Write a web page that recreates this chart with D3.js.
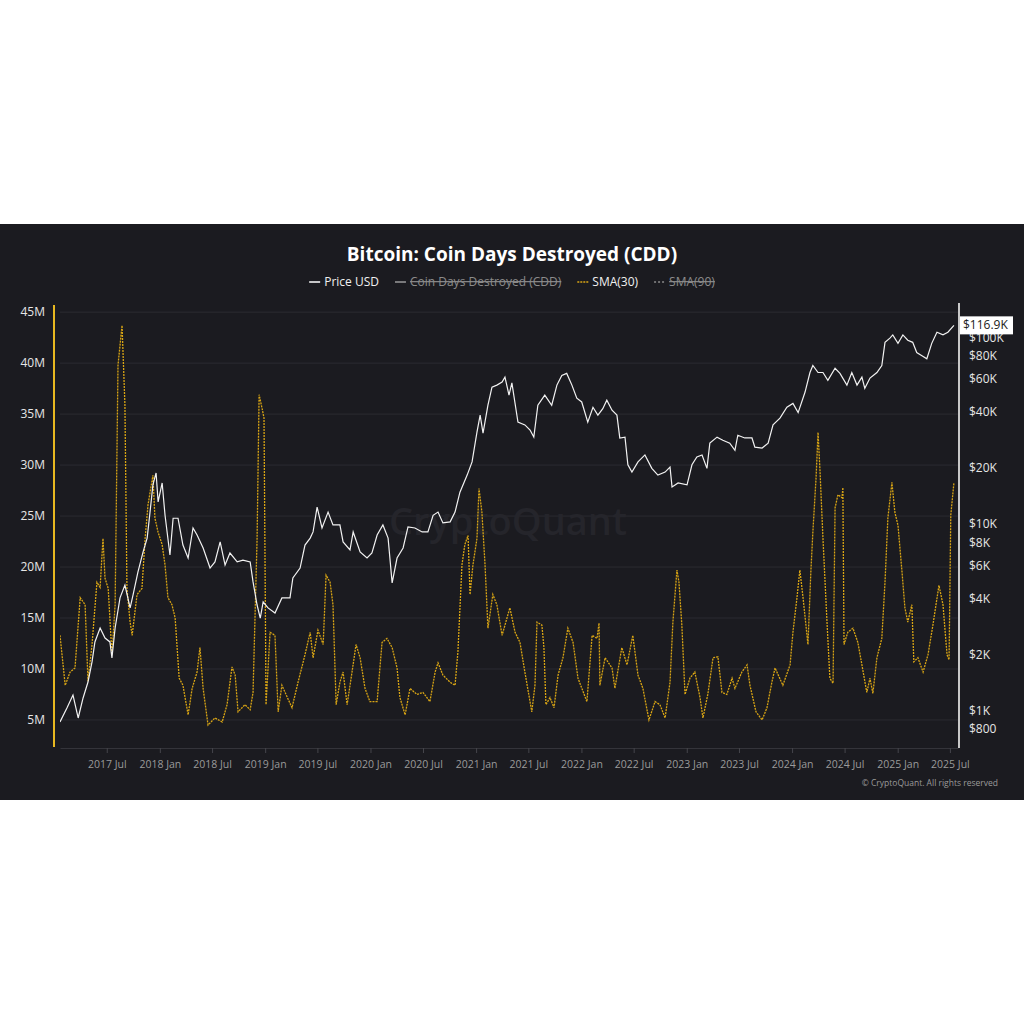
<!DOCTYPE html>
<html>
<head>
<meta charset="utf-8">
<script src="https://cdn.jsdelivr.net/npm/d3@7"></script>
<style>
  body { margin: 0; background: #ffffff; }
  #chart { width: 1024px; height: 1024px; }
  text { font-family: "Open Sans", "Noto Sans", sans-serif; }
</style>
</head>
<body>
<div id="chart"></div>
<script>
// ---- data ----
const priceDates = ["2017-01-20","2017-02-13","2017-03-06","2017-03-24","2017-04-10","2017-04-27","2017-05-11","2017-05-21","2017-06-08","2017-06-25",
  "2017-07-12","2017-07-19","2017-07-30","2017-08-16","2017-09-02","2017-09-20","2017-09-30","2017-10-17","2017-11-04","2017-11-18",
  "2017-11-28","2017-12-08","2017-12-19","2017-12-26","2018-01-09","2018-01-19","2018-02-05","2018-02-16","2018-03-05","2018-03-22",
  "2018-04-09","2018-04-26","2018-05-10","2018-05-31","2018-06-24","2018-07-11","2018-07-29","2018-08-15","2018-09-01","2018-09-26",
  "2018-10-16","2018-11-10","2018-11-20","2018-12-04","2018-12-15","2018-12-25","2019-01-11","2019-02-04","2019-02-28","2019-03-28",
  "2019-04-07","2019-05-02","2019-05-19","2019-06-06","2019-06-16","2019-06-30","2019-07-17","2019-08-07","2019-08-24","2019-09-17",
  "2019-09-28","2019-10-22","2019-11-02","2019-11-26","2019-12-20","2020-01-06","2020-01-24","2020-02-13","2020-03-02","2020-03-16",
  "2020-04-02","2020-04-23","2020-05-10","2020-06-03","2020-06-28","2020-07-18","2020-08-05","2020-08-22","2020-09-08","2020-10-03",
  "2020-10-20","2020-11-06","2020-12-01","2020-12-18","2021-01-04","2021-01-15","2021-01-25","2021-02-11","2021-02-25","2021-03-14",
  "2021-04-01","2021-04-11","2021-04-25","2021-05-05","2021-05-26","2021-06-19","2021-07-07","2021-07-20","2021-08-03","2021-08-27",
  "2021-09-20","2021-10-08","2021-10-25","2021-11-11","2021-11-29","2021-12-16","2022-01-02","2022-01-23","2022-02-10","2022-02-27",
  "2022-03-16","2022-03-30","2022-04-17","2022-05-04","2022-05-14","2022-06-01","2022-06-11","2022-06-25","2022-07-16","2022-08-09",
  "2022-09-02","2022-09-23","2022-10-18","2022-11-04","2022-11-11","2022-12-02","2023-01-02","2023-01-19","2023-02-05","2023-02-23",
  "2023-03-12","2023-03-22","2023-04-16","2023-05-06","2023-05-30","2023-06-17","2023-06-27","2023-07-21","2023-08-15","2023-08-25",
  "2023-09-19","2023-10-10","2023-10-27","2023-11-20","2023-12-14","2024-01-04","2024-01-22","2024-02-15","2024-03-03","2024-03-13",
  "2024-03-31","2024-04-17","2024-05-04","2024-05-29","2024-06-15","2024-07-09","2024-07-26","2024-08-13","2024-08-30","2024-09-09",
  "2024-09-27","2024-10-21","2024-11-07","2024-11-18","2024-12-05","2024-12-15","2025-01-02","2025-01-19","2025-02-05","2025-02-22",
  "2025-03-08","2025-03-26","2025-04-12","2025-04-29","2025-05-17","2025-06-07","2025-06-24","2025-07-15"];
const priceValues = [873,1037,1218,917,1174,1430,1832,2345,2785,2460,
  2345,1925,2785,4040,4730,3570,4180,5560,7130,8450,
  11650,16300,18900,13200,16700,11200,6860,10800,10800,7760,
  6610,9580,8780,7480,5840,6300,8060,6060,7030,6300,
  6440,6300,4920,3700,3150,3840,3570,3350,4040,4040,
  5170,5840,7760,8450,9120,12400,9580,11650,9940,9940,
  8060,7300,9120,7130,6610,7030,8780,9940,8450,4860,
  6610,7480,9700,9580,9120,9120,11200,11650,10200,10330,
  11650,14900,18400,21650,31300,38600,30900,43600,54500,55900,
  58000,61700,49400,57400,35400,34200,32100,29400,43600,49400,
  43600,55900,63000,64600,55900,47600,45400,35400,42500,38600,
  41800,46400,41000,38600,29100,29400,20900,19100,21650,23600,
  20000,18400,19100,20300,15900,16700,16300,20900,23000,23600,
  20000,27300,29400,28300,27300,25000,30100,29100,29100,26000,
  25700,27300,34200,37200,42500,44600,39800,51300,65300,71200,
  65300,65300,59300,68800,64600,55900,65300,55900,61700,53700,
  61000,65300,71200,94800,99900,103900,93600,103900,97300,94800,
  83600,80400,77400,93600,107400,103900,107400,116900];

const smaDates = ["2017-01-20","2017-02-07","2017-02-24","2017-03-13","2017-03-31","2017-04-17","2017-04-27","2017-05-11","2017-05-28","2017-06-08",
  "2017-06-18","2017-06-25","2017-07-06","2017-07-19","2017-07-30","2017-08-09","2017-08-23","2017-09-02","2017-09-09","2017-09-20",
  "2017-09-27","2017-10-14","2017-10-31","2017-11-11","2017-11-21","2017-12-08","2017-12-15","2017-12-26","2018-01-09","2018-01-19",
  "2018-01-29","2018-02-12","2018-02-23","2018-03-09","2018-03-22","2018-04-09","2018-04-23","2018-05-10","2018-05-20","2018-05-31",
  "2018-06-17","2018-07-11","2018-08-05","2018-08-22","2018-09-08","2018-09-19","2018-09-29","2018-10-23","2018-11-10","2018-11-20",
  "2018-12-04","2018-12-11","2018-12-21","2018-12-28","2019-01-04","2019-01-18","2019-02-04","2019-02-15","2019-02-28","2019-04-04",
  "2019-04-25","2019-05-19","2019-06-06","2019-06-16","2019-07-03","2019-07-21","2019-07-31","2019-08-14","2019-08-24","2019-09-04",
  "2019-09-17","2019-09-28","2019-10-12","2019-10-29","2019-11-12","2019-11-26","2019-12-13","2019-12-30","2020-01-24","2020-02-10",
  "2020-02-27","2020-03-16","2020-04-02","2020-04-12","2020-04-30","2020-05-17","2020-06-10","2020-07-01","2020-07-25","2020-08-12",
  "2020-08-22","2020-09-08","2020-10-03","2020-10-20","2020-10-30","2020-11-13","2020-11-23","2020-12-04","2020-12-11","2020-12-21",
  "2021-01-04","2021-01-11","2021-01-21","2021-02-01","2021-02-11","2021-02-28","2021-03-14","2021-04-01","2021-04-18","2021-04-28",
  "2021-05-16","2021-06-02","2021-06-19","2021-07-13","2021-07-24","2021-07-31","2021-08-17","2021-08-24","2021-08-31","2021-09-14",
  "2021-09-28","2021-10-12","2021-10-29","2021-11-15","2021-12-03","2021-12-20","2022-01-20","2022-02-07","2022-02-24","2022-03-03",
  "2022-03-06","2022-03-24","2022-04-17","2022-04-27","2022-05-21","2022-06-08","2022-06-28","2022-07-16","2022-08-02","2022-08-23",
  "2022-09-13","2022-09-30","2022-10-18","2022-11-04","2022-11-14","2022-11-28","2022-12-05","2022-12-15","2022-12-26","2023-01-12",
  "2023-01-29","2023-02-16","2023-02-26","2023-03-15","2023-04-02","2023-04-19","2023-05-03","2023-05-20","2023-06-07","2023-06-17",
  "2023-07-11","2023-07-29","2023-08-08","2023-08-29","2023-09-19","2023-10-06","2023-10-23","2023-11-03","2023-11-30","2023-12-25",
  "2024-01-04","2024-01-18","2024-01-28","2024-02-08","2024-02-18","2024-02-25","2024-03-06","2024-03-13","2024-03-24","2024-03-31",
  "2024-04-07","2024-04-17","2024-05-01","2024-05-11","2024-05-22","2024-05-29","2024-06-08","2024-06-22","2024-06-25","2024-06-29",
  "2024-07-12","2024-07-30","2024-08-16","2024-08-30","2024-09-16","2024-09-27","2024-10-07","2024-10-21","2024-11-07","2024-11-18",
  "2024-11-28","2024-12-12","2024-12-22","2025-01-02","2025-01-16","2025-01-26","2025-02-05","2025-02-19","2025-02-26","2025-03-12",
  "2025-03-30","2025-04-16","2025-05-03","2025-05-24","2025-06-07","2025-06-21","2025-06-28","2025-07-04","2025-07-15"];
// SMA(30) of CDD, millions
const smaValues = [13.3,8.4,9.7,10.1,17.0,16.3,8.8,12.4,18.5,18.0,
  22.8,18.9,17.9,11.4,16.3,39.8,43.7,35.9,17.9,14.6,
  13.3,17.3,17.9,22.8,26.1,29.0,24.8,23.4,22.2,20.2,
  17.0,16.3,15.0,9.1,8.4,5.5,8.1,9.7,12.1,8.1,
  4.5,5.2,4.8,6.5,10.2,9.4,5.8,6.5,6.0,7.7,
  22.8,36.9,35.6,34.6,6.5,13.6,13.3,5.8,8.4,6.2,
  8.7,11.4,13.6,11.1,13.8,12.4,19.2,18.5,16.3,6.5,
  8.7,9.7,6.5,9.7,12.4,11.1,8.1,6.8,6.8,12.6,
  13.0,12.1,10.1,7.2,5.5,8.1,7.5,7.7,6.8,9.7,
  10.6,9.4,8.7,8.4,11.7,20.2,22.2,23.1,17.3,20.2,
  22.8,27.7,25.4,20.2,14.0,17.3,16.3,13.3,15.0,16.0,
  13.6,12.6,9.7,5.8,8.4,14.6,14.3,12.1,6.5,7.2,
  6.2,9.4,11.1,14.0,12.6,9.1,6.8,13.3,13.0,14.5,
  8.4,11.1,10.1,8.1,12.1,10.4,13.3,9.4,8.1,5.0,
  6.8,6.5,5.2,8.7,14.6,19.7,18.5,14.3,7.5,9.1,
  9.7,7.2,5.2,7.5,11.1,11.2,7.7,7.5,9.1,8.1,
  9.7,10.4,8.4,5.8,5.0,6.2,8.7,10.1,8.4,10.4,
  13.6,17.0,19.7,17.0,14.3,12.4,19.5,23.4,28.7,33.2,
  29.3,22.8,14.6,9.1,8.6,25.8,27.1,26.8,27.8,12.4,
  13.6,14.0,12.6,10.4,7.7,9.1,7.6,11.1,13.0,18.5,
  24.8,28.3,25.4,24.1,19.5,16.0,14.6,16.3,10.7,11.1,
  9.7,11.4,14.3,18.2,16.3,11.4,10.9,25.1,28.3];

const cddTicks = [5e6, 10e6, 15e6, 20e6, 25e6, 30e6, 35e6, 40e6, 45e6];
const priceTicks = [800, 1000, 2000, 4000, 6000, 8000, 10000, 20000, 40000, 60000, 80000, 100000];
const priceTickLabels = ["$800", "$1K", "$2K", "$4K", "$6K", "$8K", "$10K", "$20K", "$40K", "$60K", "$80K", "$100K"];
const lastPriceLabel = "$116.9K";

const legendItems = [
  { name: "Price USD", color: "#ffffff", dash: null, off: false },
  { name: "Coin Days Destroyed (CDD)", color: "#9a9a9a", dash: null, off: true },
  { name: "SMA(30)", color: "#d9a514", dash: "2,1", off: false },
  { name: "SMA(90)", color: "#8a8a8a", dash: "2,2", off: true }
];

class CddChart {
  constructor(parentElement) {
    this.parentElement = parentElement;
    this.parseDate = d3.timeParse("%Y-%m-%d");
    this.initVis();
  }

  initVis() {
    let vis = this;

    vis.W = 1024;
    vis.H = 1024;
    vis.plot = { left: 60, right: 958, top: 305, bottom: 748 };

    vis.svg = d3.select("#" + vis.parentElement)
      .append("svg")
      .attr("width", vis.W)
      .attr("height", vis.H);

    // dark panel
    vis.svg.append("rect")
      .attr("x", 0).attr("y", 224)
      .attr("width", vis.W).attr("height", 576)
      .attr("fill", "#1b1b20");

    // scales
    vis.x = d3.scaleTime()
      .domain([vis.parseDate("2017-01-20"), vis.parseDate("2025-07-29")])
      .range([vis.plot.left, vis.plot.right]);

    vis.yCdd = d3.scaleLinear()
      .domain([2.25e6, 45.7e6])
      .range([vis.plot.bottom, vis.plot.top]);

    vis.yPrice = d3.scaleLog()
      .domain([633, 150300])
      .range([vis.plot.bottom, vis.plot.top]);

    // gridlines
    vis.svg.append("g")
      .selectAll("line")
      .data(cddTicks)
      .enter()
      .append("line")
      .attr("x1", vis.plot.left)
      .attr("x2", vis.plot.right)
      .attr("y1", d => vis.yCdd(d))
      .attr("y2", d => vis.yCdd(d))
      .attr("stroke", "#2b2b31")
      .attr("stroke-width", 1);

    // watermark
    vis.svg.append("text")
      .attr("x", 508)
      .attr("y", 535)
      .attr("text-anchor", "middle")
      .attr("font-size", "38px")
      .attr("font-weight", "600")
      .attr("fill", "#25252b")
      .text("CryptoQuant");

    // title
    vis.svg.append("text")
      .attr("x", 512)
      .attr("y", 261)
      .attr("text-anchor", "middle")
      .attr("font-size", "19px")
      .attr("font-weight", "700")
      .attr("fill", "#ffffff")
      .text("Bitcoin: Coin Days Destroyed (CDD)");

    vis.drawLegend();
    vis.drawAxes();
    vis.drawLines();
  }

  drawLegend() {
    let vis = this;
    let g = vis.svg.append("g").attr("class", "legend");
    let cursor = 0;
    let y = 282;

    legendItems.forEach((d) => {
      let item = g.append("g");
      item.append("line")
        .attr("x1", cursor).attr("x2", cursor + 11)
        .attr("y1", y).attr("y2", y)
        .attr("stroke", d.color)
        .attr("stroke-width", 1.5)
        .attr("stroke-dasharray", d.dash);
      let t = item.append("text")
        .attr("x", cursor + 15)
        .attr("y", y + 4)
        .attr("font-size", "12px")
        .attr("fill", d.off ? "#8c8c8c" : "#f0f0f0")
        .style("text-decoration", d.off ? "line-through" : null)
        .text(d.name);
      cursor += 15 + t.node().getComputedTextLength() + 16;
    });
    cursor -= 16;
    g.attr("transform", `translate(${512 - cursor / 2}, 0)`);
  }

  drawAxes() {
    let vis = this;

    // left axis
    vis.svg.append("line")
      .attr("x1", 54).attr("x2", 54)
      .attr("y1", vis.plot.top).attr("y2", vis.plot.bottom - 1)
      .attr("stroke", "#e8b820")
      .attr("stroke-width", 2);

    vis.svg.append("g")
      .selectAll("text")
      .data(cddTicks)
      .enter()
      .append("text")
      .attr("x", 45)
      .attr("y", d => vis.yCdd(d) + 4)
      .attr("text-anchor", "end")
      .attr("font-size", "12px")
      .attr("fill", "#e6e6e6")
      .text(d => d / 1e6 + "M");

    // right axis
    vis.svg.append("line")
      .attr("x1", 959).attr("x2", 959)
      .attr("y1", vis.plot.top - 2).attr("y2", vis.plot.bottom)
      .attr("stroke", "#c8c8c8")
      .attr("stroke-width", 2);

    vis.svg.append("g")
      .selectAll("text")
      .data(priceTicks)
      .enter()
      .append("text")
      .attr("x", 969)
      .attr("y", d => vis.yPrice(d) + 4)
      .attr("font-size", "12px")
      .attr("fill", "#e6e6e6")
      .text((d, i) => priceTickLabels[i]);

    // bottom axis
    let xAxis = d3.axisBottom(vis.x)
      .ticks(d3.timeMonth.every(6))
      .tickFormat(d3.timeFormat("%Y %b"))
      .tickSize(5)
      .tickSizeOuter(0);

    let gx = vis.svg.append("g")
      .attr("transform", `translate(0, ${vis.plot.bottom})`)
      .call(xAxis);
    gx.select(".domain").attr("stroke", "#34343a");
    gx.selectAll(".tick line").attr("stroke", "#45454b");
    gx.selectAll(".tick text")
      .attr("fill", "#9a9a9a")
      .attr("font-size", "10.5px")
      .attr("dy", "1.1em")
      .attr("font-family", "'Open Sans', sans-serif");
    gx.selectAll(".tick").filter(d => d < vis.parseDate("2017-06-01")).remove();

    // credit
    vis.svg.append("text")
      .attr("x", 998)
      .attr("y", 786)
      .attr("text-anchor", "end")
      .attr("font-size", "8.5px")
      .attr("fill", "#9a9a9a")
      .text("\u00a9 CryptoQuant. All rights reserved");
  }

  drawLines() {
    let vis = this;

    vis.svg.append("clipPath")
      .attr("id", "plotClip")
      .append("rect")
      .attr("x", vis.plot.left).attr("y", vis.plot.top)
      .attr("width", vis.plot.right - vis.plot.left)
      .attr("height", vis.plot.bottom - vis.plot.top);

    let smaData = smaDates.map((d, i) => ({ date: vis.parseDate(d), value: smaValues[i] * 1e6 }));
    let priceData = priceDates.map((d, i) => ({ date: vis.parseDate(d), value: priceValues[i] }));

    let smaLine = d3.line()
      .x(d => vis.x(d.date))
      .y(d => vis.yCdd(d.value));

    let priceLine = d3.line()
      .x(d => vis.x(d.date))
      .y(d => vis.yPrice(d.value));

    let g = vis.svg.append("g").attr("clip-path", "url(#plotClip)");

    g.append("path")
      .datum(smaData)
      .attr("d", smaLine)
      .attr("fill", "none")
      .attr("stroke", "#d9a514")
      .attr("stroke-width", 1.3)
      .attr("stroke-dasharray", "2,1");

    g.append("path")
      .datum(priceData)
      .attr("d", priceLine)
      .attr("fill", "none")
      .attr("stroke", "#f2f2f2")
      .attr("stroke-width", 1.2);

    // last price badge
    let last = priceData[priceData.length - 1];
    let by = vis.yPrice(last.value);
    vis.svg.append("rect")
      .attr("x", 960).attr("y", by - 9)
      .attr("width", 53).attr("height", 18)
      .attr("fill", "#ffffff");
    vis.svg.append("text")
      .attr("x", 963).attr("y", by + 4)
      .attr("font-size", "12px")
      .attr("fill", "#1b1b20")
      .text(lastPriceLabel);
  }
}

new CddChart("chart");
</script>
</body>
</html>
